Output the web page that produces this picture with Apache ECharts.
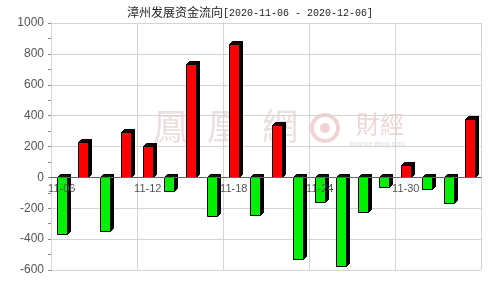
<!DOCTYPE html>
<html><head><meta charset="utf-8">
<script src="https://cdn.jsdelivr.net/npm/echarts@6/dist/echarts.min.js"></script>
<style>html,body{margin:0;padding:0;background:#fff}#c{width:500px;height:300px}</style>
</head><body><div id="c"></div>
<script>
var titleName = '漳州发展资金流向';
var titleRange = '[2020-11-06 - 2020-12-06]';
var dates = ['11-06','11-09','11-10','11-11','11-12','11-13','11-16','11-17','11-18','11-19','11-20','11-23','11-24','11-25','11-26','11-27','11-30','12-01','12-02','12-03'];
var flows = [-365, 230, -350, 295, 205, -90, 735, -250, 865, -242, 338, -527, -160, -572, -224, -65, 78, -76, -166, 377];
var yMin = -600, yMax = 1000, yStep = 200;

var gridTop = 23, gridBottom = 30, chartH = 300;
var gridH = chartH - gridTop - gridBottom;
var zeroOffset = -gridH * (0 - yMin) / (yMax - yMin);

var chart = echarts.init(document.getElementById('c'), null, {renderer: 'canvas'});
var data = flows.map(function (v, i) { return [i, v]; });

function renderItem(params, api) {
  var i = api.value(0), v = api.value(1);
  var base = api.coord([i, 0]);
  var end = api.coord([i, v]);
  var cx = Math.round(base[0]);
  var hw = 5, d = 3;
  var xl = cx - hw + 0.5, xr = cx + hw + 0.5;
  var b = Math.round(base[1]) + 0.5, e = Math.round(end[1]) + 0.5;
  var face = v >= 0 ? '#ff0000' : '#00f000';
  var topY = v >= 0 ? e : b;
  var y1 = Math.min(b, e), y2 = Math.max(b, e);
  return {
    type: 'group',
    children: [
      {type: 'polygon', shape: {points: [[xr, y1], [xr + d, y1 - d], [xr + d, y2 - d], [xr, y2]]},
        style: {fill: '#000', stroke: '#000', lineWidth: 1}},
      {type: 'polygon', shape: {points: [[xl, topY], [xl + d, topY - d], [xr + d, topY - d], [xr, topY]]},
        style: {fill: v >= 0 ? '#220000' : '#002200', stroke: '#000', lineWidth: 1}},
      {type: 'rect', shape: {x: xl, y: y1, width: xr - xl, height: y2 - y1},
        style: {fill: face, stroke: '#000', lineWidth: 1}}
    ]
  };
}

chart.setOption({
  animation: false,
  backgroundColor: '#fff',
  title: {
    left: 'center', top: 1,
    text: '{a|' + titleName + '}{b|' + titleRange + '}',
    textStyle: {
      fontWeight: 'normal',
      rich: {
        a: {fontSize: 12, fontFamily: 'Noto Sans CJK SC', fontWeight: 'normal', color: '#222', verticalAlign: 'bottom'},
        b: {fontSize: 10, fontFamily: 'Liberation Mono', fontWeight: 'normal', color: '#222', verticalAlign: 'bottom'}
      }
    }
  },
  graphic: [
    {type: 'text', z: -10, left: 153, top: 108, style: {text: '鳳', font: '36px "Noto Sans CJK TC"', fill: '#ecdfdf'}},
    {type: 'text', z: -10, left: 207, top: 108, style: {text: '凰', font: '36px "Noto Sans CJK TC"', fill: '#ecdfdf'}},
    {type: 'text', z: -10, left: 262, top: 108, style: {text: '網', font: '36px "Noto Sans CJK TC"', fill: '#ecdfdf'}},
    {type: 'circle', z: -10, shape: {cx: 325, cy: 128, r: 13}, style: {fill: 'none', stroke: '#f0d4d4', lineWidth: 4}},
    {type: 'circle', z: -10, shape: {cx: 325, cy: 128, r: 5}, style: {fill: '#f0d4d4'}},
    {type: 'text', z: -10, left: 356, top: 112, style: {text: '財經', font: '24px "Noto Sans CJK TC"', fill: '#f0d6d6'}},
    {type: 'text', z: -10, left: 350, top: 141, style: {text: 'finance.ifeng.com', font: '7px "Liberation Sans"', fill: '#e8dada'}}
  ],
  grid: {left: 51, right: 19, top: gridTop, bottom: gridBottom},
  xAxis: {
    type: 'category',
    z: 10,
    data: dates,
    boundaryGap: true,
    offset: zeroOffset,
    axisLine: {show: true, onZero: false, lineStyle: {color: '#666', width: 1}},
    axisTick: {show: false},
    axisLabel: {interval: 3, color: '#555', fontSize: 11, fontFamily: 'Liberation Sans', margin: 6},
    splitLine: {show: true, interval: 3, lineStyle: {color: '#d4d4d4', width: 1}}
  },
  yAxis: {
    type: 'value',
    min: yMin, max: yMax, interval: yStep,
    axisLine: {show: true, lineStyle: {color: '#888'}},
    axisTick: {show: true, length: 3, lineStyle: {color: '#888'}},
    minorTick: {show: true, splitNumber: 2, length: 3, lineStyle: {color: '#888'}},
    axisLabel: {color: '#555', fontSize: 12, fontFamily: 'Liberation Sans', margin: 7,
      formatter: function (v) { return String(v); }},
    splitLine: {show: true, lineStyle: {color: '#d4d4d4', width: 1}}
  },
  series: [{
    type: 'custom',
    renderItem: renderItem,
    encode: {x: 0, y: 1},
    data: data,
    z: 5
  }]
});
</script>
</body></html>
